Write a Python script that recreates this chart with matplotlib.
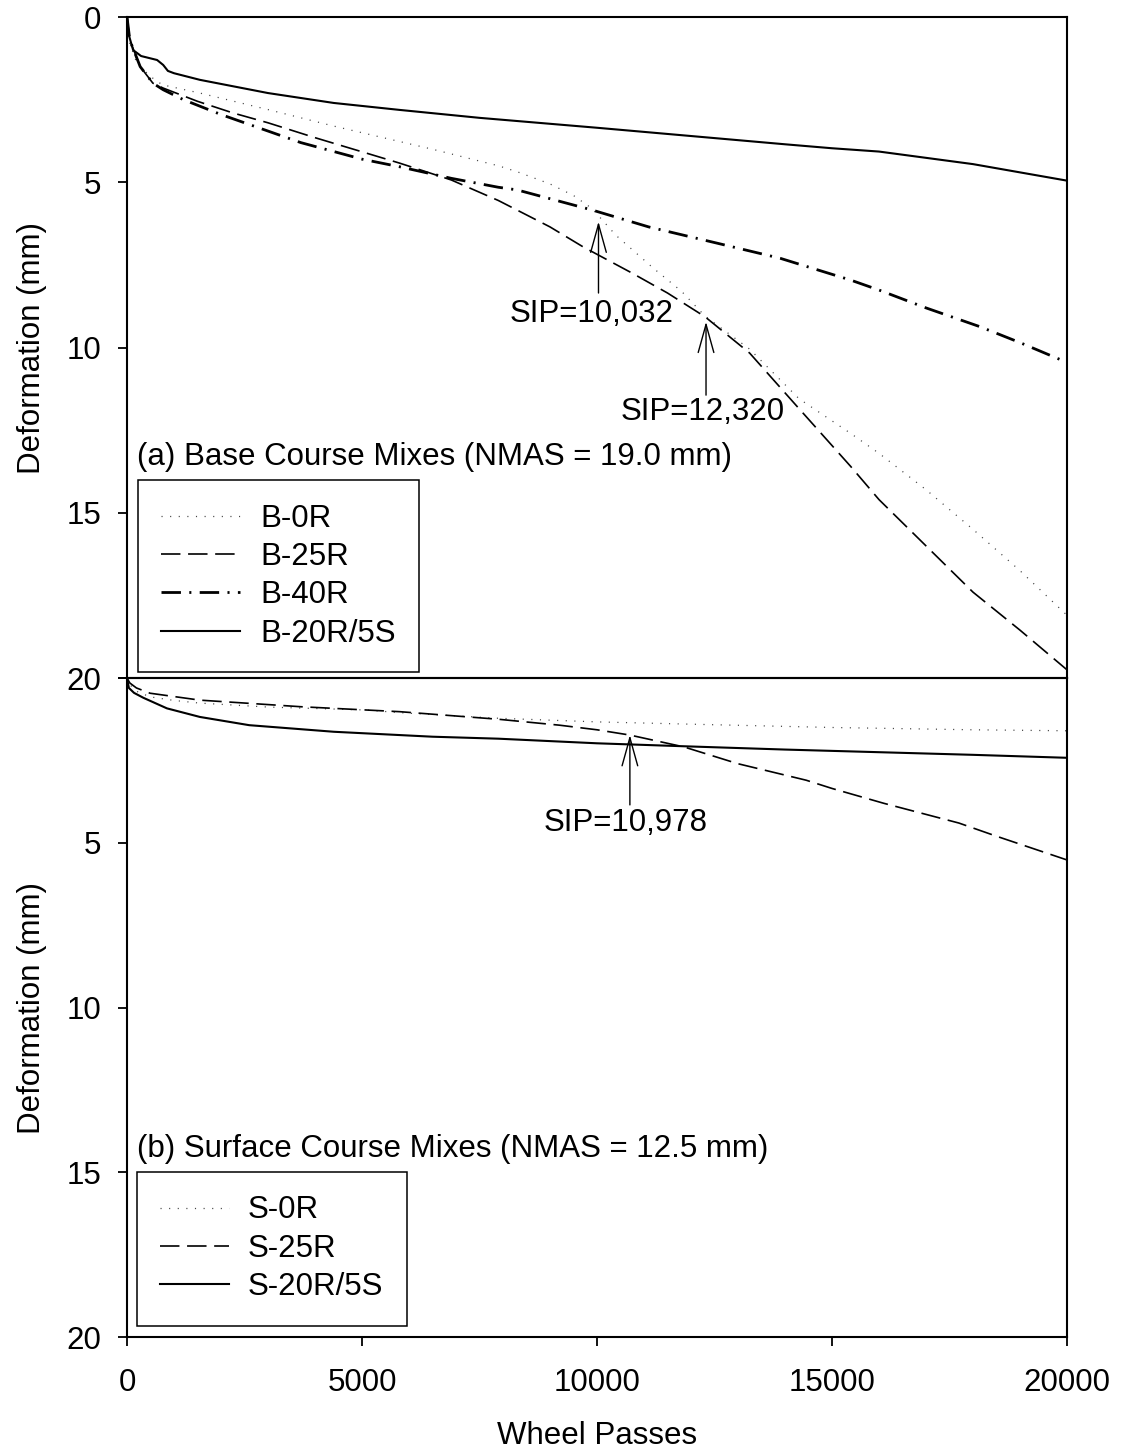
import matplotlib
matplotlib.use("Agg")
import matplotlib.pyplot as plt

plt.rcParams['font.family'] = ['Liberation Sans', 'DejaVu Sans']
plt.rcParams['font.size'] = 22.5
plt.rcParams['lines.scale_dashes'] = False

FS = 22.5

# (a) base course mixes - wheel passes vs deformation (mm)
b0r_x = [0, 60, 210, 500, 750, 1550, 3000, 4400, 6500, 7900, 8300, 9000, 9500, 9900,
         10400, 11200, 11800, 12300, 13250, 14300, 15400, 16000, 17000, 18000, 19000, 20000]
b0r_y = [0, 0.8, 1.4, 1.8, 2.05, 2.3, 2.8, 3.3, 4.0, 4.5, 4.68, 5.05, 5.4, 5.8,
         6.6, 7.6, 8.3, 9.05, 10.05, 11.55, 12.6, 13.2, 14.3, 15.5, 16.75, 18.1]

b25r_x = [0, 60, 280, 550, 770, 1500, 2250, 3000, 4000, 5100, 5800, 6900, 7900, 9000,
          9700, 10750, 11500, 12300, 13250, 14300, 15400, 16000, 17000, 18000, 19000, 20000]
b25r_y = [0, 0.7, 1.5, 2.0, 2.15, 2.55, 2.9, 3.2, 3.65, 4.12, 4.42, 4.93, 5.55, 6.35,
          6.95, 7.75, 8.35, 9.07, 10.17, 11.85, 13.6, 14.6, 16.0, 17.4, 18.55, 19.75]

b40r_x = [0, 60, 280, 550, 770, 1200, 2000, 3700, 5000, 5800, 6900, 7900, 8300, 9900,
          11100, 12550, 13900, 15400, 16000, 17000, 18150, 19000, 20000]
b40r_y = [0, 0.7, 1.5, 2.0, 2.2, 2.5, 2.95, 3.8, 4.3, 4.53, 4.88, 5.15, 5.23, 5.84,
          6.35, 6.84, 7.3, 7.96, 8.26, 8.8, 9.37, 9.85, 10.45]

b20r5s_x = [0, 30, 130, 300, 640, 770, 870, 1000, 1550, 3000, 4400, 5800, 7500, 10000,
            12000, 14000, 15000, 16000, 18000, 20000]
b20r5s_y = [0, 0.5, 1.0, 1.18, 1.3, 1.45, 1.63, 1.7, 1.9, 2.3, 2.6, 2.81, 3.05, 3.35,
            3.6, 3.85, 3.97, 4.07, 4.45, 4.95]

# (b) surface course mixes
s0r_x = [0, 60, 200, 490, 1000, 1550, 3000, 5100, 5800, 7900, 10000, 12000, 15000, 18000, 20000]
s0r_y = [0, 0.2, 0.4, 0.57, 0.68, 0.76, 0.88, 0.97, 1.05, 1.22, 1.33, 1.4, 1.5, 1.57, 1.6]

s25r_x = [0, 60, 200, 490, 1550, 3700, 5800, 7900, 9200, 10000, 10700, 11850, 13000,
          14450, 15000, 16100, 17700, 18500, 20000]
s25r_y = [0, 0.15, 0.3, 0.46, 0.67, 0.87, 1.02, 1.25, 1.43, 1.57, 1.73, 2.09, 2.6,
          3.1, 3.35, 3.8, 4.4, 4.8, 5.52]

s20r5s_x = [0, 40, 150, 350, 850, 1550, 2600, 4400, 6500, 7900, 10000, 11850, 14000,
            16000, 18000, 20000]
s20r5s_y = [0, 0.3, 0.45, 0.6, 0.92, 1.18, 1.43, 1.63, 1.78, 1.84, 1.98, 2.07, 2.17,
            2.25, 2.33, 2.42]

# SIP annotations: (arrow x, arrow tip, arrow tail, label y, label, label x)
sip_top = [(10032, 6.19, 8.35, 9.0, 'SIP=10,032', 9894),
           (12320, 9.22, 11.44, 11.95, 'SIP=12,320', 12255)]
sip_bot = [(10700, 1.73, 3.85, 4.4, 'SIP=10,978', 10617)]

dotted = dict(color='#444444', lw=0.9, linestyle=(0, (0.8, 5.4)))
dashed = dict(color='black', lw=1.2, linestyle=(0, (14, 5.5)))
dashdot = dict(color='black', lw=2.0, linestyle=(0, (14, 6, 1.5, 6)))
solid = dict(color='black', lw=1.5, linestyle='-')

fig = plt.figure(figsize=(11.21, 14.56), dpi=100)
ax1 = fig.add_axes([0.1133, 0.5343, 0.8385, 0.4540])
ax2 = fig.add_axes([0.1133, 0.0817, 0.8385, 0.4526])
ax2.patch.set_visible(False)

ax1.plot(b0r_x, b0r_y, label='B-0R', **dotted)
ax1.plot(b25r_x, b25r_y, label='B-25R', **dashed)
ax1.plot(b40r_x, b40r_y, label='B-40R', **dashdot)
ax1.plot(b20r5s_x, b20r5s_y, label='B-20R/5S', **solid)

ax2.plot(s0r_x, s0r_y, label='S-0R', **dotted)
ax2.plot(s25r_x, s25r_y, label='S-25R', **dashed)
ax2.plot(s20r5s_x, s20r5s_y, label='S-20R/5S', **solid)

arrow = dict(arrowstyle='->,head_length=0.9,head_width=0.25', lw=1.0, color='black',
             shrinkA=0, shrinkB=0)
for ax, sips in ((ax1, sip_top), (ax2, sip_bot)):
    for x, tip, tail, ty, txt, tx in sips:
        ax.annotate('', xy=(x, tip), xytext=(x, tail), arrowprops=arrow)
        ax.text(tx, ty, txt, ha='center', va='center', fontsize=FS)

for ax in (ax1, ax2):
    ax.set_xlim(0, 20000)
    ax.set_ylim(20, 0)
    ax.set_yticks([0, 5, 10, 15, 20])
    ax.set_ylabel('Deformation (mm)', fontsize=FS, labelpad=14)
    ax.tick_params(direction='out', length=6.5, width=1.3, pad=12, labelsize=FS)
    for s in ax.spines.values():
        s.set_linewidth(1.5)

ax1.tick_params(axis='x', bottom=False, labelbottom=False)
ax2.set_yticklabels(['', '5', '10', '15', '20'])
ax2.set_xticks([0, 5000, 10000, 15000, 20000])
ax2.tick_params(axis='x', pad=16)
ax2.set_xlabel('Wheel Passes', fontsize=FS, labelpad=16)

ax1.text(0.011, 0.335, '(a) Base Course Mixes (NMAS = 19.0 mm)', transform=ax1.transAxes,
         ha='left', va='center', fontsize=FS)
ax2.text(0.011, 0.285, '(b) Surface Course Mixes (NMAS = 12.5 mm)', transform=ax2.transAxes,
         ha='left', va='center', fontsize=FS)

leg1 = ax1.legend(loc='upper left', bbox_to_anchor=(0.0117, 0.2995), borderaxespad=0,
                  fancybox=False, edgecolor='black', framealpha=1, fontsize=FS,
                  handlelength=2.5, handletextpad=0.65, borderpad=0.75, labelspacing=0.27)
leg1.get_frame().set_linewidth(1.1)
leg2 = ax2.legend(loc='upper left', bbox_to_anchor=(0.0106, 0.2504), borderaxespad=0,
                  fancybox=False, edgecolor='black', framealpha=1, fontsize=FS,
                  handlelength=2.2, handletextpad=0.6, borderpad=0.75, labelspacing=0.27)
leg2.get_frame().set_linewidth(1.1)

fig.savefig('out.png', dpi=100)
